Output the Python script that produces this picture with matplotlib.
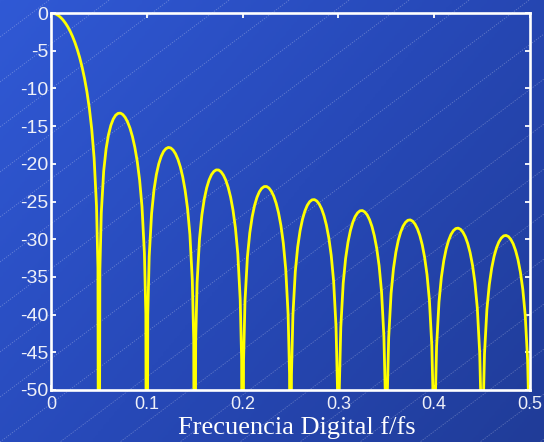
import numpy as np
import matplotlib
matplotlib.use("Agg")
import matplotlib.pyplot as plt
from matplotlib.colors import LinearSegmentedColormap

plt.rcParams['axes.unicode_minus'] = False

# Espectro en dB de un pulso rectangular (lobulos de ancho 0.05 en f/fs)
ancho_lobulo = 0.05
piso_db = -100.0          # valor usado para los nulos (fuera de escala)
fraccion = [0.0, 0.02, 0.05, 0.10, 0.15, 0.20, 0.25, 0.30, 0.35, 0.40, 0.45,
            0.50, 0.55, 0.60, 0.65, 0.70, 0.75, 0.80, 0.85, 0.90, 0.95, 0.98]

lobulo_principal = [0.0, -0.01, -0.04, -0.14, -0.32, -0.58, -0.91, -1.33, -1.83, -2.42, -3.12,
                    -3.92, -4.86, -5.94, -7.20, -8.69, -10.45, -12.62, -15.39, -19.23, -25.61, -33.81]
lobulo_1 = [piso_db, -34.16, -26.48, -20.97, -18.02, -16.15, -14.89, -14.06, -13.55, -13.31, -13.28,
            -13.47, -13.86, -14.47, -15.29, -16.39, -17.81, -19.67, -22.15, -25.72, -31.85, -39.92]
lobulo_2 = [piso_db, -40.09, -32.29, -26.59, -23.45, -21.41, -20.00, -19.02, -18.36, -17.99, -17.83,
            -17.90, -18.18, -18.68, -19.41, -20.41, -21.74, -23.51, -25.90, -29.39, -35.45, -43.47]
lobulo_3 = [piso_db, -43.58, -35.74, -29.97, -26.77, -24.67, -23.19, -22.15, -21.44, -21.01, -20.81,
            -20.82, -21.06, -21.51, -22.19, -23.15, -24.43, -26.16, -28.51, -31.96, -37.99, -45.98]
lobulo_4 = [piso_db, -46.07, -38.20, -32.40, -29.16, -27.03, -25.52, -24.45, -23.71, -23.25, -23.02,
            -23.01, -23.21, -23.64, -24.29, -25.23, -26.49, -28.19, -30.52, -33.95, -39.95, -47.93]
lobulo_5 = [piso_db, -48.00, -40.12, -34.29, -31.04, -28.88, -27.36, -26.27, -25.51, -25.03, -24.78,
            -24.75, -24.94, -25.35, -25.98, -26.90, -28.15, -29.83, -32.15, -35.56, -41.54, -49.52]
lobulo_6 = [piso_db, -49.58, -41.69, -35.85, -32.58, -30.41, -28.87, -27.77, -27.00, -26.51, -26.24,
            -26.20, -26.38, -26.77, -27.40, -28.30, -29.54, -31.21, -33.52, -36.92, -42.89, -50.86]
lobulo_7 = [piso_db, -50.91, -43.02, -37.17, -33.89, -31.71, -30.16, -29.05, -28.27, -27.77, -27.49,
            -27.44, -27.61, -28.00, -28.62, -29.51, -30.74, -32.41, -34.70, -38.10, -44.06, -52.02]
lobulo_8 = [piso_db, -52.07, -44.17, -38.31, -35.03, -32.84, -31.28, -30.17, -29.38, -28.87, -28.59,
            -28.53, -28.69, -29.07, -29.68, -30.57, -31.79, -33.45, -35.74, -39.13, -45.09, -53.05]
lobulo_9 = [piso_db, -53.09, -45.19, -39.32, -36.03, -33.84, -32.28, -31.15, -30.36, -29.85, -29.56,
            -29.50, -29.65, -30.03, -30.63, -31.52, -32.73, -34.39, -36.67, -40.06, -46.01, -53.97]

lobulos = [lobulo_principal, lobulo_1, lobulo_2, lobulo_3, lobulo_4,
           lobulo_5, lobulo_6, lobulo_7, lobulo_8, lobulo_9]

xticks = [0, 0.1, 0.2, 0.3, 0.4, 0.5]
xtick_labels = ['0', '0.1', '0.2', '0.3', '0.4', '0.5']
yticks = list(range(-50, 1, 5))

# eje de frecuencia y magnitud concatenando los lobulos
f = []
mag = []
for k, lob in enumerate(lobulos):
    f.extend((k + np.array(fraccion)) * ancho_lobulo)
    mag.extend(lob)
f.append(len(lobulos) * ancho_lobulo)
mag.append(piso_db)

W, H = 544, 442
fig = plt.figure(figsize=(W / 100, H / 100), dpi=100)

# fondo: degradado azul con lineas diagonales finas
bg = fig.add_axes([0, 0, 1, 1], zorder=0)
bg.set_xlim(0, W)
bg.set_ylim(0, H)
bg.axis('off')
cmap = LinearSegmentedColormap.from_list('fondo', ['#3059d5', '#2749b8', '#203c98'])
gx, gy = np.meshgrid(np.linspace(0, 1, 200), np.linspace(0, 1, 200))
grad = gx * 0.6 + gy * 0.4
bg.imshow(grad, cmap=cmap, extent=[0, W, 0, H], origin='upper', aspect='auto')
xs = np.array([0, W])
for c in np.arange(-430, H + 45, 45) + 25:
    bg.plot(xs, 0.75 * xs + c, color='white', lw=0.6, alpha=0.28,
            linestyle=(0, (1.5, 1.5)))

ax = fig.add_axes([51 / W, 1 - 390 / H, 479 / W, 377 / H], zorder=1)
ax.set_facecolor('none')
ax.plot(f, mag, color='#ffff00', lw=2.0, solid_joinstyle='round')
ax.set_xlim(0, 0.5)
ax.set_ylim(-50, 0)
ax.set_xticks(xticks)
ax.set_xticklabels(xtick_labels)
ax.set_yticks(yticks)
ax.set_yticklabels([str(t) for t in yticks])

for s in ax.spines.values():
    s.set_color('white')
    s.set_linewidth(1.9)
ax.tick_params(direction='in', length=3.5, width=1.3, color='white',
               top=True, right=True, labelcolor='#eef0f8', pad=2)
ax.tick_params(axis='x', labelsize=13, pad=4)
ax.tick_params(axis='y', labelsize=14)
for lab in ax.get_xticklabels() + ax.get_yticklabels():
    lab.set_family(['Liberation Sans', 'DejaVu Sans'])

ax.set_xlabel('Frecuencia Digital f/fs', family=['Liberation Serif', 'DejaVu Serif'],
              fontsize=19, color='white')
ax.xaxis.set_label_coords(0.514, -0.07)

fig.savefig('out.png', dpi=100)
